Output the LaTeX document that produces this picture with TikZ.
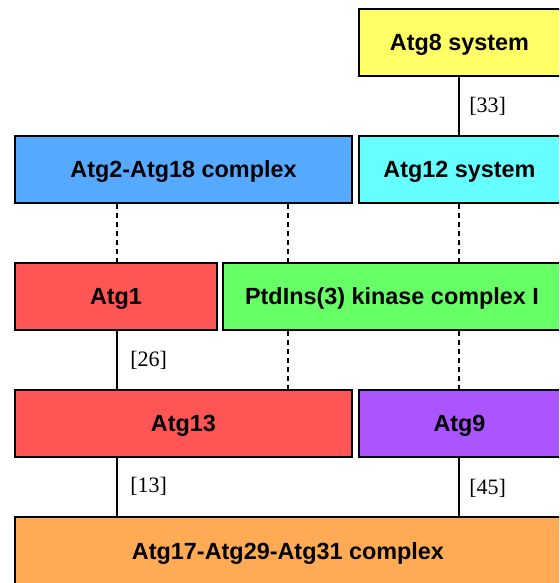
\documentclass[tikz,border=0pt]{standalone}
\usepackage{fontspec}
\setmainfont{Liberation Serif}
\newfontfamily\boxfont{Liberation Sans}
\usetikzlibrary{calc}

\definecolor{sysyellow}{HTML}{FFFF66}
\definecolor{cplxblue}{HTML}{55AAFF}
\definecolor{syscyan}{HTML}{66FFFF}
\definecolor{atgred}{HTML}{FF5555}
\definecolor{kingreen}{HTML}{66FF66}
\definecolor{atgpurple}{HTML}{AA55FF}
\definecolor{cplxorange}{HTML}{FFAA55}

\tikzset{
  atgbox/.style={draw=black, line width=1pt, minimum height=33.5pt, inner sep=0pt,
    text depth=0pt, font=\boxfont\bfseries\fontsize{11.7}{14}\selectfont},
  ref/.style={anchor=west, inner sep=0pt, font=\fontsize{11}{13}\selectfont},
  link/.style={line width=1pt},
  maybe/.style={line width=1pt, dash pattern=on 2.5pt off 2pt}
}

\begin{document}
\begin{tikzpicture}[x=0.5pt,y=-0.5pt]
\useasboundingbox (0,0) rectangle (559,583);
\begin{scope}
\clip (0,0) rectangle (559,583);

\node[atgbox, fill=sysyellow, minimum width=101pt](atg8) at (459.5,42.5) {Atg8 system};
\node[atgbox, fill=cplxblue, minimum width=168.5pt](atg2) at (183.5,169.5) {Atg2-Atg18 complex};
\node[atgbox, fill=syscyan, minimum width=101pt](atg12) at (459.5,169.5) {Atg12 system};
\node[atgbox, fill=atgred, minimum width=101pt](atg1) at (116,296.5) {Atg1};
\node[atgbox, fill=kingreen, minimum width=169pt](pik) at (392,296.5) {PtdIns(3) kinase complex I};
\node[atgbox, fill=atgred, minimum width=168.5pt](atg13) at (183.5,423.5) {Atg13};
\node[atgbox, fill=atgpurple, minimum width=101pt](atg9) at (459.5,423.5) {Atg9};
\node[atgbox, fill=cplxorange, minimum width=273pt, minimum height=34.5pt](atg17) at (288,551.5) {Atg17-Atg29-Atg31 complex};

\coordinate (left) at (117,0);
\coordinate (mid) at (288,0);
\coordinate (right) at (458.5,0);

% known links
\draw[link] (atg8.south -| right) -- (atg12.north -| right);
\draw[link] (atg1.south -| left) -- (atg13.north -| left);
\draw[link] (atg13.south -| left) -- (atg17.north -| left);
\draw[link] (atg9.south -| right) -- (atg17.north -| right);

% putative links
\draw[maybe] (atg2.south -| left) -- (atg1.north -| left);
\draw[maybe] (atg2.south -| mid) -- (pik.north -| mid);
\draw[maybe] (atg12.south -| right) -- (pik.north -| right);
\draw[maybe] (pik.south -| mid) -- (atg13.north -| mid);
\draw[maybe] (pik.south -| right) -- (atg9.north -| right);

\node[ref](r33) at (469,106) {[33]};
\node[ref](r26) at (130,360) {[26]};
\node[ref](r13) at (130,486) {[13]};
\node[ref](r45) at (469,488) {[45]};
\end{scope}
\end{tikzpicture}
\end{document}
